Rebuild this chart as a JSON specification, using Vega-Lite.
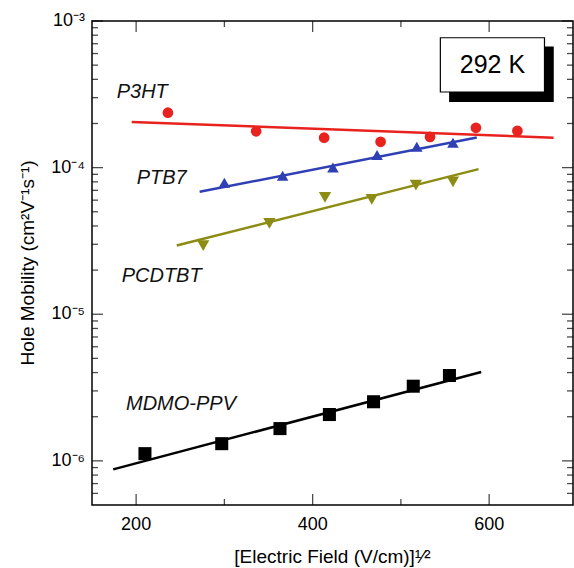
{
  "$schema": "https://vega.github.io/schema/vega-lite/v6.json",
  "width": 481,
  "height": 484,
  "autosize": {"type": "none"},
  "padding": {"left": 92, "top": 21, "right": 1, "bottom": 63},
  "background": "#ffffff",
  "config": {
    "view": {"stroke": "#000000", "strokeWidth": 1.5},
    "font": "Liberation Sans"
  },
  "datasets": {
    "fits": [
      {"series": "P3HT", "x": 195, "y": 0.000205},
      {"series": "P3HT", "x": 673, "y": 0.00016},
      {"series": "PTB7", "x": 272, "y": 0.0000684},
      {"series": "PTB7", "x": 586, "y": 0.0001605},
      {"series": "PCDTBT", "x": 246, "y": 0.0000294},
      {"series": "PCDTBT", "x": 588, "y": 0.0000977},
      {"series": "MDMO-PPV", "x": 174, "y": 0.000000875},
      {"series": "MDMO-PPV", "x": 591, "y": 0.00000404}
    ],
    "pts": [
      {"series": "P3HT", "x": 236, "y": 0.000237},
      {"series": "P3HT", "x": 336, "y": 0.000177},
      {"series": "P3HT", "x": 413, "y": 0.00016},
      {"series": "P3HT", "x": 477, "y": 0.00015},
      {"series": "P3HT", "x": 533, "y": 0.000162},
      {"series": "P3HT", "x": 585, "y": 0.000187},
      {"series": "P3HT", "x": 632, "y": 0.000178},
      {"series": "PTB7", "x": 300, "y": 0.000079},
      {"series": "PTB7", "x": 366, "y": 0.000088},
      {"series": "PTB7", "x": 423, "y": 0.0001},
      {"series": "PTB7", "x": 473, "y": 0.000122},
      {"series": "PTB7", "x": 518, "y": 0.000139},
      {"series": "PTB7", "x": 559, "y": 0.000148},
      {"series": "PCDTBT", "x": 276, "y": 0.0000294},
      {"series": "PCDTBT", "x": 351, "y": 0.0000417},
      {"series": "PCDTBT", "x": 414, "y": 0.0000627},
      {"series": "PCDTBT", "x": 467, "y": 0.0000608},
      {"series": "PCDTBT", "x": 517, "y": 0.000076},
      {"series": "PCDTBT", "x": 559, "y": 0.00008},
      {"series": "MDMO-PPV", "x": 210, "y": 0.00000112},
      {"series": "MDMO-PPV", "x": 297, "y": 0.00000131},
      {"series": "MDMO-PPV", "x": 363, "y": 0.00000166},
      {"series": "MDMO-PPV", "x": 419, "y": 0.00000207},
      {"series": "MDMO-PPV", "x": 469, "y": 0.00000253},
      {"series": "MDMO-PPV", "x": 514, "y": 0.00000323},
      {"series": "MDMO-PPV", "x": 555, "y": 0.00000382}
    ],
    "labels": [
      {"label": "P3HT", "x": 178, "y": 0.000326},
      {"label": "PTB7", "x": 200.6, "y": 0.0000848},
      {"label": "PCDTBT", "x": 183.6, "y": 0.0000181},
      {"label": "MDMO-PPV", "x": 188.5, "y": 0.00000246}
    ],
    "xticks": [
      {"v": 200, "kind": "major", "t": "200"}, {"v": 300, "kind": "minor", "t": ""}, {"v": 400, "kind": "major", "t": "400"}, {"v": 500, "kind": "minor", "t": ""}, {"v": 600, "kind": "major", "t": "600"}
    ],
    "yticks": [
      {"v": 0.000001, "kind": "major", "t": "10⁻⁶"}, {"v": 0.00001, "kind": "major", "t": "10⁻⁵"}, {"v": 0.0001, "kind": "major", "t": "10⁻⁴"}, {"v": 0.001, "kind": "major", "t": "10⁻³"},
      {"v": 0.0000006, "kind": "minor", "t": ""}, {"v": 0.0000007, "kind": "minor", "t": ""}, {"v": 0.0000008, "kind": "minor", "t": ""}, {"v": 0.0000009, "kind": "minor", "t": ""},
      {"v": 0.000002, "kind": "minor", "t": ""}, {"v": 0.000003, "kind": "minor", "t": ""}, {"v": 0.000004, "kind": "minor", "t": ""}, {"v": 0.000005, "kind": "minor", "t": ""},
      {"v": 0.000006, "kind": "minor", "t": ""}, {"v": 0.000007, "kind": "minor", "t": ""}, {"v": 0.000008, "kind": "minor", "t": ""}, {"v": 0.000009, "kind": "minor", "t": ""},
      {"v": 0.00002, "kind": "minor", "t": ""}, {"v": 0.00003, "kind": "minor", "t": ""}, {"v": 0.00004, "kind": "minor", "t": ""}, {"v": 0.00005, "kind": "minor", "t": ""},
      {"v": 0.00006, "kind": "minor", "t": ""}, {"v": 0.00007, "kind": "minor", "t": ""}, {"v": 0.00008, "kind": "minor", "t": ""}, {"v": 0.00009, "kind": "minor", "t": ""},
      {"v": 0.0002, "kind": "minor", "t": ""}, {"v": 0.0003, "kind": "minor", "t": ""}, {"v": 0.0004, "kind": "minor", "t": ""}, {"v": 0.0005, "kind": "minor", "t": ""},
      {"v": 0.0006, "kind": "minor", "t": ""}, {"v": 0.0007, "kind": "minor", "t": ""}, {"v": 0.0008, "kind": "minor", "t": ""}, {"v": 0.0009, "kind": "minor", "t": ""}
    ],
    "titles": [
      {"axis": "y", "t": "Hole Mobility (cm²V⁻¹s⁻¹)", "x": 150, "y": 0.00002236},
      {"axis": "x", "t": "[Electric Field (V/cm)]¹⁄²", "x": 422.5, "y": 0.0000005}
    ],
    "shadow": [{"x": 554.6, "x2": 673.2, "y": 0.00028, "y2": 0.000671}],
    "box": [{"x": 544.7, "x2": 662.7, "y": 0.000328, "y2": 0.000769, "text": "292 K", "xc": 603.7, "yc": 0.000502}]
  },
  "layer": [
    {
      "data": {"name": "fits"},
      "mark": {"type": "line", "strokeWidth": 2.5},
      "encoding": {
        "x": {"field": "x", "type": "quantitative", "scale": {"domain": [150, 695], "nice": false, "zero": false}, "axis": null},
        "y": {"field": "y", "type": "quantitative", "scale": {"type": "log", "domain": [0.0000005, 0.001], "nice": false}, "axis": null},
        "color": {
          "field": "series", "type": "nominal",
          "scale": {"domain": ["P3HT", "PTB7", "PCDTBT", "MDMO-PPV"], "range": ["#e8221e", "#2f3fb4", "#8c8c14", "#000000"]},
          "legend": null
        }
      }
    },
    {
      "data": {"name": "pts"},
      "mark": {"type": "point", "filled": true, "opacity": 1},
      "encoding": {
        "x": {"field": "x", "type": "quantitative", "axis": null},
        "y": {"field": "y", "type": "quantitative", "axis": null},
        "color": {
          "field": "series", "type": "nominal",
          "scale": {"domain": ["P3HT", "PTB7", "PCDTBT", "MDMO-PPV"], "range": ["#e8221e", "#2f3fb4", "#8c8c14", "#000000"]},
          "legend": null
        },
        "shape": {
          "field": "series", "type": "nominal",
          "scale": {"domain": ["P3HT", "PTB7", "PCDTBT", "MDMO-PPV"], "range": ["circle", "triangle-up", "triangle-down", "square"]},
          "legend": null
        },
        "size": {
          "field": "series", "type": "nominal",
          "scale": {"domain": ["P3HT", "PTB7", "PCDTBT", "MDMO-PPV"], "range": [115, 170, 170, 100]},
          "legend": null
        }
      }
    },
    {
      "data": {"name": "labels"},
      "mark": {"type": "text", "align": "left", "baseline": "middle", "fontStyle": "italic", "fontSize": 20, "font": "Liberation Sans", "color": "#111111"},
      "encoding": {
        "x": {"field": "x", "type": "quantitative", "axis": null},
        "y": {"field": "y", "type": "quantitative", "axis": null},
        "text": {"field": "label"}
      }
    },
    {
      "data": {"name": "yticks"},
      "transform": [{"filter": "datum.kind == 'major'"}],
      "mark": {"type": "tick", "orient": "horizontal", "size": 11, "thickness": 1.3, "color": "#000000", "xOffset": 5.5},
      "encoding": {"x": {"datum": 150, "type": "quantitative", "axis": null}, "y": {"field": "v", "type": "quantitative", "axis": null}}
    },
    {
      "data": {"name": "yticks"},
      "transform": [{"filter": "datum.kind == 'minor'"}],
      "mark": {"type": "tick", "orient": "horizontal", "size": 6, "thickness": 1.3, "color": "#000000", "xOffset": 3},
      "encoding": {"x": {"datum": 150, "type": "quantitative", "axis": null}, "y": {"field": "v", "type": "quantitative", "axis": null}}
    },
    {
      "data": {"name": "yticks"},
      "transform": [{"filter": "datum.kind == 'major'"}],
      "mark": {"type": "tick", "orient": "horizontal", "size": 11, "thickness": 1.3, "color": "#000000", "xOffset": -5.5},
      "encoding": {"x": {"datum": 695, "type": "quantitative", "axis": null}, "y": {"field": "v", "type": "quantitative", "axis": null}}
    },
    {
      "data": {"name": "yticks"},
      "transform": [{"filter": "datum.kind == 'minor'"}],
      "mark": {"type": "tick", "orient": "horizontal", "size": 6, "thickness": 1.3, "color": "#000000", "xOffset": -3},
      "encoding": {"x": {"datum": 695, "type": "quantitative", "axis": null}, "y": {"field": "v", "type": "quantitative", "axis": null}}
    },
    {
      "data": {"name": "xticks"},
      "transform": [{"filter": "datum.kind == 'major'"}],
      "mark": {"type": "tick", "orient": "vertical", "size": 11, "thickness": 1.3, "color": "#000000", "yOffset": -5.5},
      "encoding": {"x": {"field": "v", "type": "quantitative", "axis": null}, "y": {"datum": 0.0000005, "type": "quantitative", "axis": null}}
    },
    {
      "data": {"name": "xticks"},
      "transform": [{"filter": "datum.kind == 'minor'"}],
      "mark": {"type": "tick", "orient": "vertical", "size": 6, "thickness": 1.3, "color": "#000000", "yOffset": -3},
      "encoding": {"x": {"field": "v", "type": "quantitative", "axis": null}, "y": {"datum": 0.0000005, "type": "quantitative", "axis": null}}
    },
    {
      "data": {"name": "xticks"},
      "transform": [{"filter": "datum.kind == 'major'"}],
      "mark": {"type": "tick", "orient": "vertical", "size": 11, "thickness": 1.3, "color": "#000000", "yOffset": 5.5},
      "encoding": {"x": {"field": "v", "type": "quantitative", "axis": null}, "y": {"datum": 0.001, "type": "quantitative", "axis": null}}
    },
    {
      "data": {"name": "xticks"},
      "transform": [{"filter": "datum.kind == 'minor'"}],
      "mark": {"type": "tick", "orient": "vertical", "size": 6, "thickness": 1.3, "color": "#000000", "yOffset": 3},
      "encoding": {"x": {"field": "v", "type": "quantitative", "axis": null}, "y": {"datum": 0.001, "type": "quantitative", "axis": null}}
    },
    {
      "data": {"name": "yticks"},
      "transform": [{"filter": "datum.kind == 'major'"}],
      "mark": {"type": "text", "align": "right", "baseline": "middle", "fontSize": 18, "font": "Liberation Sans", "color": "#000000", "xOffset": -7},
      "encoding": {"x": {"datum": 150, "type": "quantitative", "axis": null}, "y": {"field": "v", "type": "quantitative", "axis": null}, "text": {"field": "t"}}
    },
    {
      "data": {"name": "xticks"},
      "transform": [{"filter": "datum.kind == 'major'"}],
      "mark": {"type": "text", "align": "center", "baseline": "top", "fontSize": 18, "font": "Liberation Sans", "color": "#000000", "yOffset": 11},
      "encoding": {"x": {"field": "v", "type": "quantitative", "axis": null}, "y": {"datum": 0.0000005, "type": "quantitative", "axis": null}, "text": {"field": "t"}}
    },
    {
      "data": {"name": "titles"},
      "transform": [{"filter": "datum.axis == 'y'"}],
      "mark": {"type": "text", "align": "center", "baseline": "middle", "angle": 270, "fontSize": 19, "font": "Liberation Sans", "color": "#000000", "xOffset": -64},
      "encoding": {"x": {"field": "x", "type": "quantitative", "axis": null}, "y": {"field": "y", "type": "quantitative", "axis": null}, "text": {"field": "t"}}
    },
    {
      "data": {"name": "titles"},
      "transform": [{"filter": "datum.axis == 'x'"}],
      "mark": {"type": "text", "align": "center", "baseline": "alphabetic", "fontSize": 19, "font": "Liberation Sans", "color": "#000000", "yOffset": 58},
      "encoding": {"x": {"field": "x", "type": "quantitative", "axis": null}, "y": {"field": "y", "type": "quantitative", "axis": null}, "text": {"field": "t"}}
    },
    {
      "data": {"name": "shadow"},
      "mark": {"type": "rect", "fill": "#000000"},
      "encoding": {
        "x": {"field": "x", "type": "quantitative", "axis": null},
        "x2": {"field": "x2"},
        "y": {"field": "y", "type": "quantitative", "axis": null},
        "y2": {"field": "y2"}
      }
    },
    {
      "data": {"name": "box"},
      "mark": {"type": "rect", "fill": "#ffffff", "stroke": "#000000", "strokeWidth": 1.2},
      "encoding": {
        "x": {"field": "x", "type": "quantitative", "axis": null},
        "x2": {"field": "x2"},
        "y": {"field": "y", "type": "quantitative", "axis": null},
        "y2": {"field": "y2"}
      }
    },
    {
      "data": {"name": "box"},
      "mark": {"type": "text", "align": "center", "baseline": "middle", "fontSize": 25, "font": "Liberation Sans", "color": "#000000"},
      "encoding": {
        "x": {"field": "xc", "type": "quantitative", "axis": null},
        "y": {"field": "yc", "type": "quantitative", "axis": null},
        "text": {"field": "text"}
      }
    }
  ]
}
